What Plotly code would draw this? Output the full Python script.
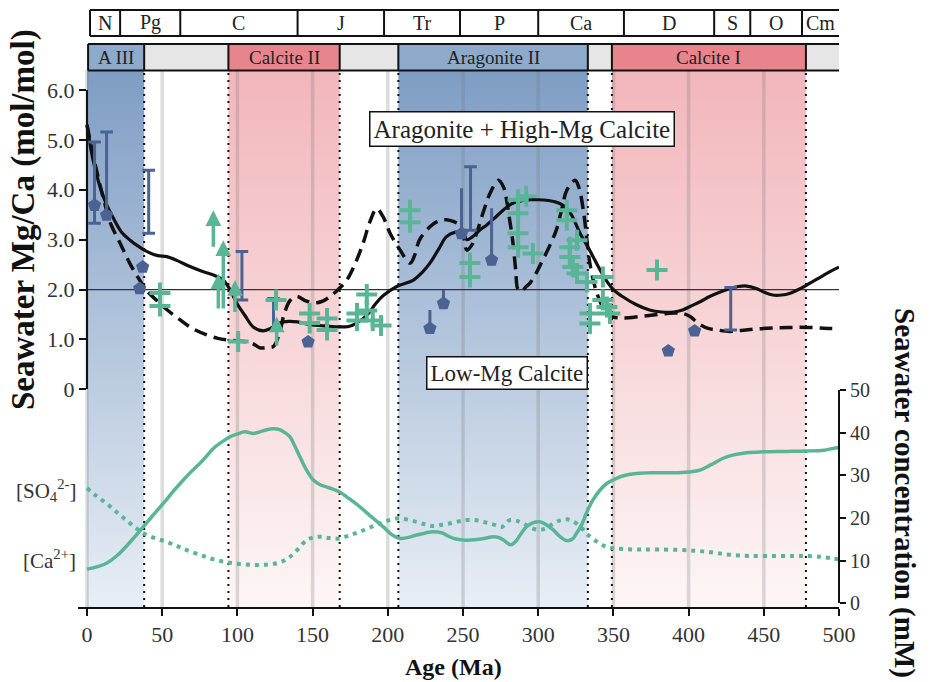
import plotly.graph_objects as go

# ---------------- data ----------------
period_names = ["N", "Pg", "C", "J", "Tr", "P", "Ca", "D", "S", "O", "Cm"]
period_edges = [2, 22, 62, 140, 197.5, 248, 300, 357, 417, 441, 475.4, 500.6]

sea_names = ["A III", "", "Calcite II", "", "Aragonite II", "", "Calcite I", ""]
sea_kind = ["arag", "none", "calc", "none", "arag", "none", "calc", "none"]
sea_edges = [0.7, 38, 94, 168, 207, 333, 349, 478, 500.6]
boundary_ages = [38, 94, 168, 207, 333, 349, 478]
grid_ages = [0, 50, 100, 150, 200, 250, 300, 350, 400, 450]

# Mg/Ca model curves (solid and dashed)
solid_age = [0, 4, 8.6, 13, 17, 23, 28.6, 35, 40, 47, 53, 60, 68.5, 76, 84, 90.5, 95, 99.5,
             105, 110.5, 117, 122, 128, 134, 140, 146, 150, 158, 168, 174, 179, 186, 192, 197,
             206, 217, 223, 228, 234, 239, 245, 250, 252.5, 256, 261, 266, 272, 277, 283, 289,
             294.5, 300, 305.6, 311, 316.5, 322, 327.8, 334, 341, 346, 350, 356, 365, 374, 382,
             390, 396, 401, 408, 414, 421, 427.5, 433, 438.6, 445, 450, 456, 462, 467, 473,
             478.5, 486, 494, 500]
solid_mgca = [5.3, 4.6, 4.06, 3.7, 3.46, 3.15, 2.99, 2.85, 2.76, 2.68, 2.66, 2.58, 2.46, 2.37,
              2.29, 2.19, 2.0, 1.73, 1.48, 1.25, 1.17, 1.22, 1.33, 1.36, 1.35, 1.31, 1.29, 1.27,
              1.25, 1.26, 1.32, 1.48, 1.72, 1.88, 2.06, 2.19, 2.35, 2.53, 2.82, 3.06, 3.15,
              3.13, 3.0, 3.05, 3.19, 3.3, 3.46, 3.6, 3.73, 3.78, 3.8, 3.8, 3.79, 3.76, 3.69,
              3.5, 3.13, 2.8, 2.4, 2.15, 2.0, 1.86, 1.7, 1.59, 1.55, 1.55, 1.59, 1.66, 1.76,
              1.86, 1.95, 2.02, 2.06, 2.07, 2.02, 1.95, 1.89, 1.89, 1.92, 2.0, 2.09, 2.22,
              2.36, 2.45]

dash_age = [0, 4, 10.6, 16, 22, 28, 35, 40, 46, 53, 62, 70, 79.6, 87, 93, 100, 106, 110, 115,
            120, 124, 128, 131, 135, 139.4, 145, 150, 156, 161.6, 167, 172.7, 178, 183.6, 188,
            192.6, 197, 201.5, 208, 214.8, 218, 221, 228, 234, 239, 244, 248, 250.5, 252.5, 256,
            259, 264, 268, 273.5, 277, 279, 281, 283, 285, 286.6, 289, 292, 294.5, 299, 303,
            308, 312, 316, 319, 324.5, 327, 330, 332, 334, 336.5, 339, 342, 345.5, 350, 356,
            368, 380, 390, 396, 401, 405, 408, 413, 418.7, 427.5, 435, 445, 456, 467, 480, 494,
            500]
dash_mgca = [5.3, 4.7, 3.86, 3.3, 2.93, 2.55, 2.19, 1.97, 1.79, 1.6, 1.39, 1.22, 1.09, 1.02,
             0.99, 0.97, 0.95, 0.92, 0.83, 0.84, 0.86, 1.13, 1.5, 1.78, 1.86, 1.78, 1.73, 1.76,
             1.86, 2.0, 2.19, 2.5, 2.93, 3.35, 3.62, 3.45, 3.13, 2.8, 2.53, 2.7, 2.99, 3.26,
             3.38, 3.4, 3.36, 3.29, 3.05, 2.79, 2.9, 3.13, 3.6, 3.93, 4.19, 4.05, 3.79, 3.4,
             2.99, 2.4, 2.0, 1.97, 2.06, 2.13, 2.35, 2.59, 2.9, 3.19, 3.65, 3.99, 4.19, 4.05,
             3.59, 3.1, 2.59, 2.2, 1.93, 1.7, 1.53, 1.45, 1.43, 1.46, 1.5, 1.53, 1.52, 1.46,
             1.36, 1.29, 1.22, 1.19, 1.16, 1.18, 1.21, 1.23, 1.24, 1.24, 1.22, 1.22]

# seawater concentrations (mM)
ca_age = [0, 7, 13, 20, 26, 32, 37.4, 44, 50.7, 57, 64, 70, 75, 80, 84, 90, 95, 100, 105,
          110.6, 115, 119.5, 124, 128, 132, 135, 138, 141.6, 146, 150.5, 155, 159, 163, 168,
          174, 181.5, 189, 197, 203, 208, 213, 219, 225, 230, 236, 241, 246, 252, 258, 264,
          270, 274, 277, 280, 282, 285, 288, 292, 296, 301, 305, 310, 314, 319, 322.5, 325.5,
          329, 332, 336, 341, 346, 352, 358, 365.4, 375, 390, 400, 407.6, 415, 423, 430,
          438.6, 450, 465, 478.5, 490, 496, 500]
ca_mm = [8.0, 8.6, 9.4, 11.2, 13.3, 15.7, 17.9, 20.7, 23.4, 26.1, 28.9, 31.1, 32.8, 34.7,
         36.3, 37.9, 39.0, 39.7, 40.2, 39.8, 40.2, 40.7, 40.9, 40.7, 39.9, 39.0, 37.0, 34.3,
         31.2, 28.9, 27.8, 27.3, 26.8, 26.1, 24.6, 22.6, 20.3, 17.9, 16.0, 15.2, 15.4, 16.0,
         16.5, 16.8, 16.5, 15.6, 15.0, 14.8, 14.9, 15.2, 15.6, 15.4, 14.8, 14.0, 13.7, 14.5,
         16.0, 17.9, 18.8, 19.1, 18.5, 17.2, 15.8, 14.7, 15.0, 16.4, 18.5, 21.1, 24.0, 26.5,
         28.2, 29.3, 30.0, 30.4, 30.6, 30.6, 30.8, 31.2, 32.5, 34.0, 34.8, 35.3, 35.5, 35.6,
         35.7, 35.9, 36.3, 36.5]

so4_age = [0, 6, 13, 20, 26, 32, 37.4, 45, 53, 60, 66, 74, 82, 90, 97, 105, 113, 120, 126,
           131, 135, 140, 146, 150, 155, 161, 168, 175, 181.5, 188, 195, 200, 206, 212, 219,
           225, 230, 236, 241, 247, 252.4, 258, 263.5, 270, 275.7, 278, 281, 285, 290, 296,
           301, 305, 310, 315, 319, 322, 325.5, 329, 332, 336, 341, 345, 350, 358, 367.7, 380,
           396.5, 405, 412, 420, 429.7, 440, 456, 470, 478.5, 488, 496, 500]
so4_mm = [27.0, 25.2, 23.4, 21.3, 19.5, 17.8, 16.4, 15.3, 14.4, 13.4, 12.5, 11.5, 10.5, 9.8,
          9.4, 9.1, 9.0, 9.1, 9.4, 10.0, 10.9, 12.6, 14.8, 15.4, 15.6, 15.3, 15.2, 16.0, 16.8,
          17.8, 18.7, 19.4, 19.9, 19.7, 19.1, 18.5, 18.1, 18.4, 18.7, 19.2, 19.5, 19.5, 19.1,
          18.5, 17.9, 18.5, 19.5, 19.4, 18.7, 17.6, 17.2, 17.6, 18.7, 19.5, 19.7, 19.4, 18.7,
          17.6, 16.4, 15.2, 14.0, 13.3, 12.9, 12.7, 12.6, 12.6, 12.5, 12.3, 12.1, 11.7, 11.3,
          11.1, 11.1, 11.1, 11.1, 10.9, 10.5, 10.3]

# fossil-based estimates: blue pentagons with ranges
pent_age = [5, 13, 37, 35, 147, 228, 237, 249, 269, 386.5, 404]
pent_mgca = [3.69, 3.49, 2.45, 2.02, 0.95, 1.22, 1.72, 3.12, 2.59, 0.77, 1.17]
bar_age = [5, 13, 41, 103, 124, 228, 237, 249, 255, 269, 428]
bar_lo = [3.33, 3.55, 3.13, 1.79, 1.25, 1.22, 1.72, 3.12, 3.19, 2.59, 1.19]
bar_hi = [4.96, 5.16, 4.39, 2.76, 1.82, 1.59, 1.99, 4.03, 4.46, 3.63, 2.04]
cap_age = [5, 5, 13, 41, 41, 103, 103, 124, 255, 255, 428, 428]
cap_mgca = [4.96, 3.33, 5.16, 4.39, 3.13, 2.76, 1.79, 1.82, 4.46, 3.19, 2.04, 1.19]

# green crosses and minimum-value arrows
cross_age = [48.5, 48.5, 100.5, 125.7, 148, 148, 159.6, 159.6, 179.5, 179.5, 186, 186, 190,
             195.5, 214.8, 214.8, 254.6, 254.6, 286.6, 286.6, 286.6, 286.6, 292, 296.5, 319,
             319, 321, 321, 325.8, 323, 325.8, 332.4, 343, 334.4, 334.4, 343, 345.7, 347.7, 379]
cross_mgca = [1.93, 1.67, 0.96, 1.79, 1.52, 1.33, 1.42, 1.19, 1.52, 1.38, 1.9, 1.58, 1.38,
              1.28, 3.59, 3.35, 2.53, 2.25, 3.8, 3.53, 3.13, 2.85, 3.87, 2.72, 3.59, 3.39,
              2.85, 2.65, 2.99, 2.45, 2.32, 2.15, 2.25, 1.52, 1.32, 1.79, 1.65, 1.52, 2.39]
arrow_age = [84, 90.6, 87.3, 98.4, 126.1]
arrow_lo = [2.83, 1.59, 1.59, 1.52, 0.85]
arrow_hi = [3.59, 2.99, 2.32, 2.19, 1.46]

mg_ticks = [0, 1, 2, 3, 4, 5, 6]
mg_ticktext = ["0", "1.0", "2.0", "3.0", "4.0", "5.0", "6.0"]
mm_ticks = [0, 10, 20, 30, 40, 50]
age_ticks = [0, 50, 100, 150, 200, 250, 300, 350, 400, 450, 500]

# ---------------- styles ----------------
SERIF = "Liberation Serif"
BLACK = "#111111"
GREEN = "#5ab597"
BLUE = "#4c6292"
LABEL_FILL = {"arag": "#8eaacb", "calc": "#e8858c", "none": "#e6e6e6"}
SHADE = {"arag": ("#e8eef5", "#7e9dc4"), "calc": ("#fdf6f6", "#f2b6bb")}

# pixel layout: plot area x 78..839, y 70..607
L, R, T, B = 78, 91, 70, 75
W, H = 930, 682
PW, PH = W - L - R, H - T - B


def py(pix):  # pixel row -> paper fraction
    return (H - B - pix) / PH


def px(pix):  # pixel column -> paper fraction
    return (pix - L) / PW


fig = go.Figure()

# shaded sea intervals (vertical gradient)
for i, kind in enumerate(sea_kind):
    if kind == "none":
        continue
    a0, a1 = sea_edges[i], sea_edges[i + 1]
    if a0 < 1:
        a0 = 0
    bot, top = SHADE[kind]
    fig.add_trace(go.Scatter(
        x=[a0, a1, a1, a0, a0], y=[0, 0, 1, 1, 0], mode="lines", line=dict(width=0),
        fill="toself", fillgradient=dict(type="vertical", colorscale=[[0, bot], [1, top]]),
        hoverinfo="skip", showlegend=False, xaxis="x", yaxis="y"))

# faint vertical grid stripes
gx, gy = [], []
for a in grid_ages:
    gx += [a, a, None]
    gy += [0, 1, None]
fig.add_trace(go.Scatter(x=gx, y=gy, mode="lines", line=dict(color="rgba(120,120,120,0.26)", width=3.5),
                         hoverinfo="skip", showlegend=False, xaxis="x", yaxis="y"))

# dotted interval boundaries
bx, by = [], []
for a in boundary_ages:
    bx += [a, a, None]
    by += [0, 1, None]
fig.add_trace(go.Scatter(x=bx, y=by, mode="lines", line=dict(color=BLACK, width=2, dash="2px,5px"),
                         hoverinfo="skip", showlegend=False, xaxis="x", yaxis="y"))

# Mg/Ca = 2 threshold
fig.add_trace(go.Scatter(x=[0, 500], y=[2, 2], mode="lines", line=dict(color="#333333", width=1.3),
                         hoverinfo="skip", showlegend=False, xaxis="x", yaxis="y2"))

# concentration curves
fig.add_trace(go.Scatter(x=so4_age, y=so4_mm, mode="lines", line=dict(color=GREEN, width=4, dash="4px,5px"),
                         line_shape="spline", showlegend=False, xaxis="x", yaxis="y3"))
fig.add_trace(go.Scatter(x=ca_age, y=ca_mm, mode="lines", line=dict(color=GREEN, width=3.5),
                         line_shape="spline", showlegend=False, xaxis="x", yaxis="y3"))

# Mg/Ca model curves
fig.add_trace(go.Scatter(x=solid_age, y=solid_mgca, mode="lines", line=dict(color=BLACK, width=3.2),
                         line_shape="spline", showlegend=False, xaxis="x", yaxis="y2"))
fig.add_trace(go.Scatter(x=dash_age, y=dash_mgca, mode="lines",
                         line=dict(color=BLACK, width=3.5, dash="13px,7px"),
                         line_shape="spline", showlegend=False, xaxis="x", yaxis="y2"))

# blue ranges
rx, ry = [], []
for a, lo, hi in zip(bar_age, bar_lo, bar_hi):
    rx += [a, a, None]
    ry += [lo, hi, None]
fig.add_trace(go.Scatter(x=rx, y=ry, mode="lines", line=dict(color=BLUE, width=3),
                         showlegend=False, xaxis="x", yaxis="y2"))
fig.add_trace(go.Scatter(x=cap_age, y=cap_mgca, mode="markers",
                         marker=dict(symbol="line-ew", size=9, line=dict(color=BLUE, width=3)),
                         showlegend=False, xaxis="x", yaxis="y2"))
fig.add_trace(go.Scatter(x=pent_age, y=pent_mgca, mode="markers",
                         marker=dict(symbol="pentagon", size=14, color=BLUE, line=dict(width=0)),
                         showlegend=False, xaxis="x", yaxis="y2"))

# green crosses
fig.add_trace(go.Scatter(x=cross_age, y=cross_mgca, mode="markers",
                         marker=dict(symbol="cross-thin", size=15, line=dict(color=GREEN, width=4)),
                         showlegend=False, xaxis="x", yaxis="y2"))

annotations = []
for a, lo, hi in zip(arrow_age, arrow_lo, arrow_hi):
    annotations.append(dict(x=a, y=hi, ax=a, ay=lo, xref="x", yref="y2", axref="x", ayref="y2",
                            text="", showarrow=True, arrowhead=2, arrowsize=0.9, arrowwidth=3.5,
                            arrowcolor=GREEN, standoff=0, startstandoff=0))

shapes = []
# period band (top row)
y0p, y1p = py(36), py(10)
for i, name in enumerate(period_names):
    a0, a1 = period_edges[i], period_edges[i + 1]
    shapes.append(dict(type="line", xref="x", yref="paper", x0=a0, x1=a0, y0=y0p, y1=y1p,
                       line=dict(color=BLACK, width=2)))
    annotations.append(dict(x=(a0 + a1) / 2, y=(y0p + y1p) / 2, xref="x", yref="paper", text=name,
                            showarrow=False, font=dict(family=SERIF, size=20, color="#222222"),
                            xanchor="center", yanchor="middle"))
for yy in (y0p, y1p):
    shapes.append(dict(type="line", xref="x", yref="paper", x0=period_edges[0], x1=period_edges[-1],
                       y0=yy, y1=yy, line=dict(color=BLACK, width=2)))

# carbonate sea band (second row)
y0s, y1s = py(70.5), py(44)
for i, name in enumerate(sea_names):
    a0, a1 = sea_edges[i], sea_edges[i + 1]
    shapes.append(dict(type="rect", xref="x", yref="paper", x0=a0, x1=a1, y0=y0s, y1=y1s,
                       fillcolor=LABEL_FILL[sea_kind[i]], line=dict(width=0), layer="above"))
    if name:
        annotations.append(dict(x=(a0 + a1) / 2, y=(y0s + y1s) / 2, xref="x", yref="paper", text=name,
                                showarrow=False, font=dict(family=SERIF, size=19, color="#222222"),
                                xanchor="center", yanchor="middle"))
for i in range(len(sea_names)):
    a0 = sea_edges[i]
    shapes.append(dict(type="line", xref="x", yref="paper", x0=a0, x1=a0, y0=y0s, y1=y1s,
                       line=dict(color=BLACK, width=2), layer="above"))
for yy in (y0s, y1s):
    shapes.append(dict(type="line", xref="x", yref="paper", x0=sea_edges[0], x1=sea_edges[-1],
                       y0=yy, y1=yy, line=dict(color=BLACK, width=2), layer="above"))

# field labels
annotations.append(dict(x=289, y=5.22, xref="x", yref="y2", text="Aragonite + High-Mg Calcite",
                        showarrow=False, font=dict(family=SERIF, size=25, color="#222222"),
                        bgcolor="white", bordercolor=BLACK, borderwidth=1.5, borderpad=3))
annotations.append(dict(x=279, y=0.32, xref="x", yref="y2", text="Low-Mg Calcite",
                        showarrow=False, font=dict(family=SERIF, size=23, color="#222222"),
                        bgcolor="white", bordercolor=BLACK, borderwidth=1.5, borderpad=3))

# concentration labels
annotations.append(dict(x=0.0, y=26.5, xref="paper", yref="y3", text="[SO<sub>4</sub><sup>2-</sup>]",
                        showarrow=False, xanchor="right", yanchor="middle",
                        font=dict(family=SERIF, size=21, color="#333333")))
annotations.append(dict(x=0.0, y=10.3, xref="paper", yref="y3", text="[Ca<sup>2+</sup>]",
                        showarrow=False, xanchor="right", yanchor="middle",
                        font=dict(family=SERIF, size=21, color="#333333")))

# axis titles
annotations.append(dict(x=px(23), y=py(220), xref="paper", yref="paper",
                        text="<b>Seawater Mg/Ca (mol/mol)</b>", textangle=-90, showarrow=False,
                        xanchor="center", yanchor="middle",
                        font=dict(family=SERIF, size=33, color="#111111")))
annotations.append(dict(x=px(905), y=py(493), xref="paper", yref="paper",
                        text="<b>Seawater concentration (mM)</b>", textangle=90, showarrow=False,
                        xanchor="center", yanchor="middle",
                        font=dict(family=SERIF, size=29, color="#111111")))
annotations.append(dict(x=px(453), y=py(667), xref="paper", yref="paper",
                        text="<b>Age (Ma)</b>", showarrow=False, xanchor="center", yanchor="middle",
                        font=dict(family=SERIF, size=24, color="#111111")))

fig.update_layout(
    width=W, height=H, margin=dict(l=L, r=R, t=T, b=B),
    paper_bgcolor="white", plot_bgcolor="rgba(0,0,0,0)", showlegend=False,
    font=dict(family=SERIF, color="#333333"),
    xaxis=dict(range=[-6, 500], anchor="y", showline=True, linecolor=BLACK, linewidth=2,
               ticks="outside", ticklen=7, tickwidth=2, tickcolor=BLACK, tickvals=age_ticks,
               tickfont=dict(family=SERIF, size=22, color="#333333"), showgrid=False, zeroline=False),
    yaxis=dict(domain=[0, 1], range=[0, 1], visible=False, fixedrange=True),
    yaxis2=dict(domain=[py(389.3), py(90)], range=[0, 6], anchor="free", position=px(87),
                side="left", showline=True, linecolor=BLACK, linewidth=2, ticks="outside", ticklen=7,
                tickwidth=2, tickcolor=BLACK, tickvals=mg_ticks, ticktext=mg_ticktext,
                tickfont=dict(family=SERIF, size=22, color="#333333"), showgrid=False, zeroline=False),
    yaxis3=dict(domain=[py(603.3), py(390)], range=[0, 50], anchor="free", position=1.0,
                side="right", showline=True, linecolor=BLACK, linewidth=2, ticks="outside", ticklen=6,
                tickwidth=2, tickcolor=BLACK, tickvals=mm_ticks,
                tickfont=dict(family=SERIF, size=20, color="#333333"), showgrid=False, zeroline=False),
    shapes=shapes, annotations=annotations,
)

fig.write_html("out.html")
